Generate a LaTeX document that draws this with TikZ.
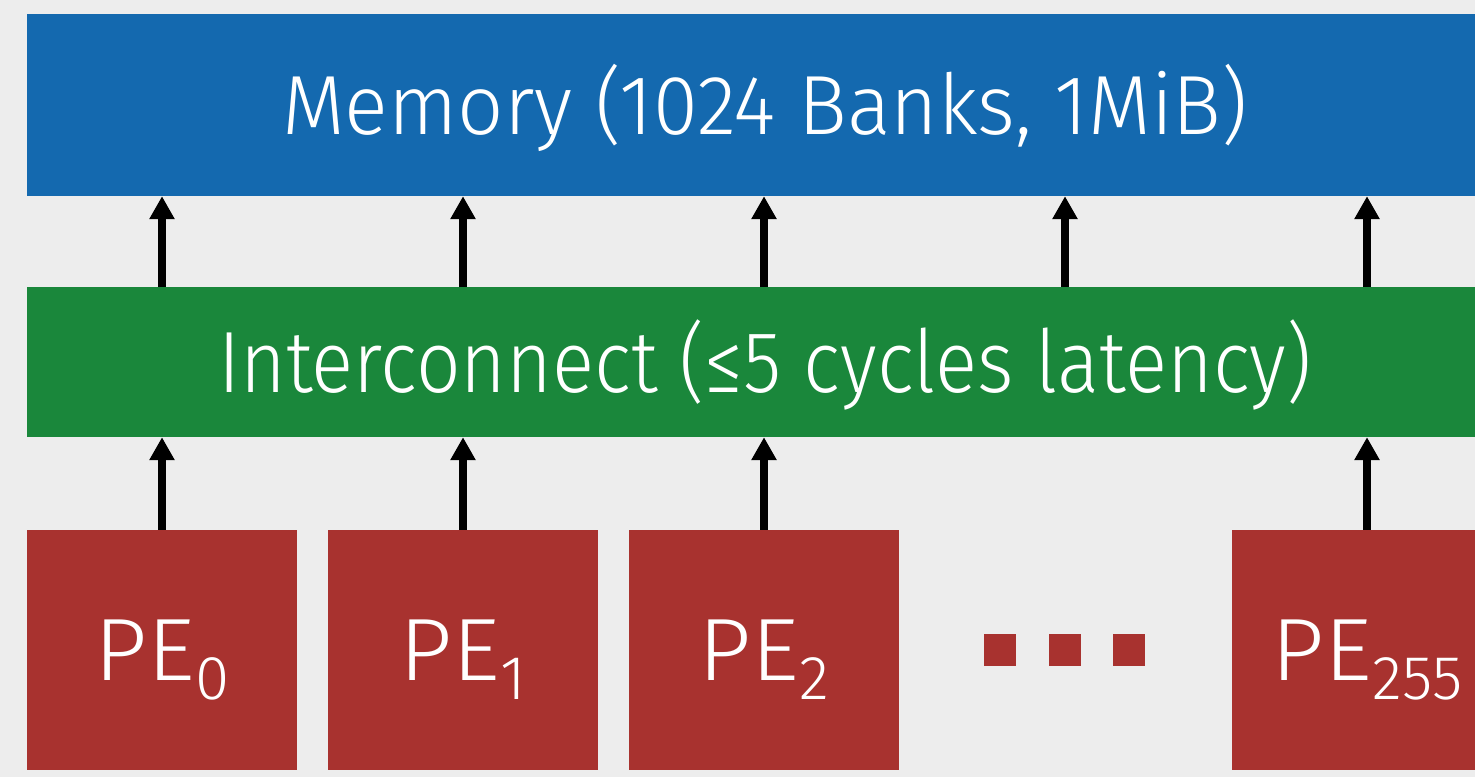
\documentclass[tikz,border=0pt]{standalone}
\usepackage{fontspec}
\setmainfont{Fira Sans Light}
\usepackage{tikz}
\usetikzlibrary{arrows.meta,positioning,calc}
\definecolor{bgray}{HTML}{EDEDED}
\definecolor{membl}{HTML}{1469AF}
\definecolor{icgrn}{HTML}{1A873B}
\definecolor{pered}{HTML}{A8322F}
\tikzset{
  block/.style={rectangle,inner sep=0pt,text=white,text depth=0pt},
  pe/.style={block,fill=pered,minimum width=270pt,minimum height=240pt,
    text height=61pt,font=\fontsize{88.5}{90}\selectfont},
  dot/.style={rectangle,fill=pered,inner sep=0pt,minimum size=32pt},
  arr/.style={-{Triangle[width=24pt,length=23pt]},line width=7.5pt,black}
}
\newcommand{\pesub}[1]{\raisebox{-19pt}{\fontsize{62}{64}\selectfont #1}}
\newcommand{\pebox}[3]{
  \node[pe] (#1) at #2 {\scalebox{1.05}[1]{PE}\pesub{#3}};
}

\begin{document}
\begin{tikzpicture}[x=1pt,y=-1pt]
  \useasboundingbox (0,0) rectangle (1475,777);
  \clip (0,0) rectangle (1475,777);
  \fill[bgray] (0,0) rectangle (1475,777);
  % memory and interconnect
  \node[block,fill=membl,minimum width=1476pt,minimum height=182pt,text height=58pt,
    font=\fontsize{84}{86}\selectfont] (mem) at (765,105)
    {\scalebox{0.968}[1]{Memory (1024 Banks, 1MiB)}};
  \node[block,fill=icgrn,minimum width=1476pt,minimum height=150pt,text height=60pt,
    font=\fontsize{87}{89}\selectfont] (ic) at (765,362)
    {\scalebox{0.9}[1]{Interconnect (≤5 cycles latency)}};
  % processing elements
  \pebox{pe0}{(162,650)}{0}
  \pebox{pe1}{(463,650)}{1}
  \pebox{pe2}{(764,650)}{2}
  \pebox{pe255}{(1367,650)}{255}
  \node[dot] (dota) at (1000,650) {};
  \node[dot] (dotb) at (1065,650) {};
  \node[dot] (dotc) at (1129,650) {};
  % arrows
  \foreach \n in {pe0,pe1,pe2,pe255}
    \draw[arr] (\n.north) -- (\n.north |- ic.south);
  \foreach \n in {pe0,pe1,pe2,dotb,pe255}
    \draw[arr] (\n |- ic.north) -- (\n |- mem.south);
\end{tikzpicture}
\end{document}
